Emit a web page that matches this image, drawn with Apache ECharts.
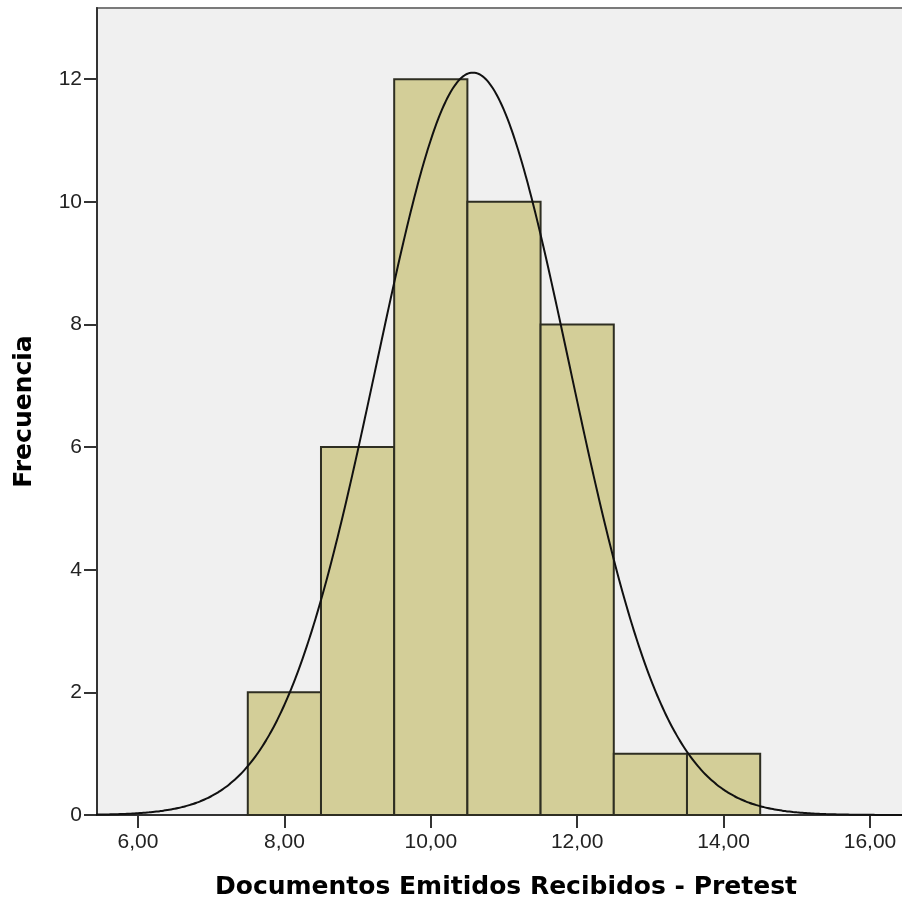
<!DOCTYPE html>
<html>
<head>
<meta charset="UTF-8">
<script src="https://cdn.jsdelivr.net/npm/echarts@6/dist/echarts.min.js"></script>
<style>
  body { margin: 0; background: #fff; }
  #chart { width: 902px; height: 906px; }
</style>
</head>
<body>
<div id="chart"></div>
<script>
// Histogram bins (lower edge) and counts
const binStarts = [7.5, 8.5, 9.5, 10.5, 11.5, 12.5, 13.5]
const binWidth = 1
const counts = [2, 6, 12, 10, 8, 1, 1]

// Normal curve fitted by SPSS (mean / sd of the 40 cases)
const mean = 10.575
const sd = 1.318
const totalN = 40

const xTicks = [6, 8, 10, 12, 14, 16]
const yTicks = [0, 2, 4, 6, 8, 10, 12]

const FONT = "'Liberation Sans', Arial, sans-serif"
const TITLE_FONT = "'DejaVu Sans', sans-serif"

// density line scaled to frequency
const curve = []
for (let x = 5.4; x <= 16.7; x += 0.05) {
  const z = (x - mean) / sd
  curve.push([x, totalN * binWidth * Math.exp(-0.5 * z * z) / (sd * Math.sqrt(2 * Math.PI))])
}

const bars = binStarts.map((s, i) => [s, s + binWidth, counts[i]])

const chart = echarts.init(document.getElementById('chart'))
chart.setOption({
  animation: false,
  grid: {
    left: 97, right: -13, top: 8, bottom: 91,
    outerBoundsMode: 'none',
    containLabel: false,
    show: true,
    backgroundColor: '#f0f0f0',
    borderColor: '#7a7a7a',
    borderWidth: 2
  },
  xAxis: {
    type: 'value',
    min: 5.44,
    max: 16.615,
    name: 'Documentos Emitidos Recibidos - Pretest',
    nameLocation: 'middle',
    nameGap: 60,
    nameTextStyle: { fontFamily: TITLE_FONT, fontWeight: 'bold', fontSize: 25, color: '#000' },
    axisLine: { onZero: false, lineStyle: { color: '#333', width: 2 } },
    axisTick: { show: true, length: 13, customValues: xTicks, lineStyle: { color: '#333', width: 2 } },
    axisLabel: {
      customValues: xTicks,
      margin: 17,
      fontFamily: FONT, fontSize: 21, color: '#222',
      formatter: v => v.toFixed(2).replace('.', ',')
    },
    splitLine: { show: false }
  },
  yAxis: {
    type: 'value',
    min: 0,
    max: 13.16,
    name: 'Frecuencia',
    nameLocation: 'middle',
    nameGap: 60,
    nameRotate: 90,
    nameTextStyle: { fontFamily: TITLE_FONT, fontWeight: 'bold', fontSize: 25, color: '#000' },
    axisLine: { show: true, lineStyle: { color: '#333', width: 2 } },
    axisTick: { show: true, length: 13, customValues: yTicks, lineStyle: { color: '#333', width: 2 } },
    axisLabel: { customValues: yTicks, margin: 15, fontFamily: FONT, fontSize: 21, color: '#222' },
    splitLine: { show: false }
  },
  series: [
    {
      type: 'custom',
      data: bars,
      encode: { x: [0, 1], y: 2 },
      renderItem: (params, api) => {
        const p0 = api.coord([api.value(0), 0])
        const p1 = api.coord([api.value(1), api.value(2)])
        return {
          type: 'rect',
          shape: { x: p0[0], y: p1[1], width: p1[0] - p0[0], height: p0[1] - p1[1] },
          style: { fill: '#d3ce98', stroke: '#2e2e22', lineWidth: 2 }
        }
      },
      z: 2
    },
    {
      type: 'line',
      data: curve,
      showSymbol: false,
      smooth: true,
      lineStyle: { color: '#111', width: 2 },
      z: 3
    }
  ]
})
</script>
</body>
</html>
